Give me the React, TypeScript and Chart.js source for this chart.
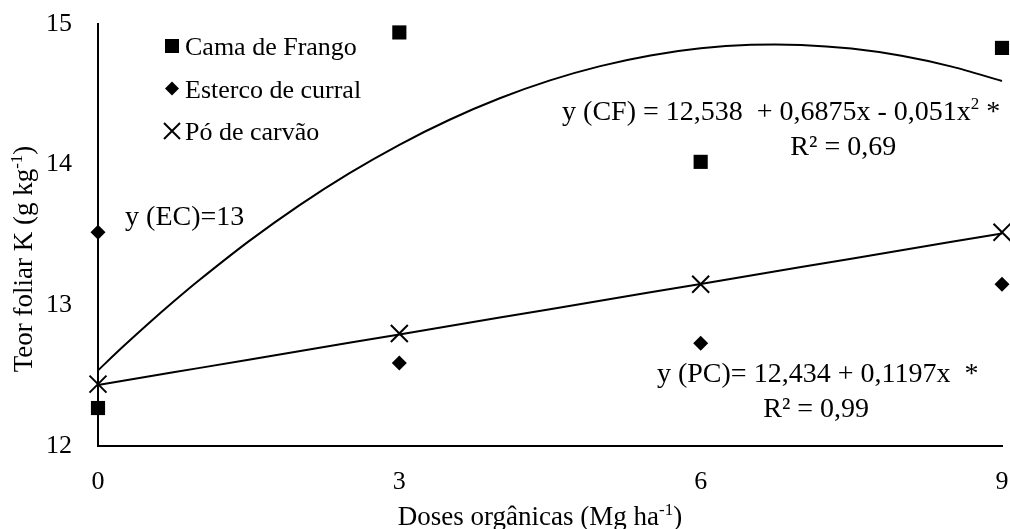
import React, { useEffect, useRef } from "react";
import { Chart, registerables } from "chart.js";

Chart.register(...registerables);

// ---- data ----
const doses = [0, 3, 6, 9];
const camaDeFrango = [12.27, 14.94, 14.02, 14.83];
const estercoDeCurral = [13.52, 12.59, 12.73, 13.15];
const poDeCarvao = [12.44, 12.8, 13.15, 13.52];
const xTicks = [0, 3, 6, 9];
const yTicks = [12, 13, 14, 15];
const seriesLabels = ["Cama de Frango", "Esterco de curral", "Pó de carvão"];
// regression coefficients printed on the chart
const cfCoef = [12.538, 0.6875, -0.051];
const pcCoef = [12.434, 0.1197];
const trendX = [0, 0.25, 0.5, 0.75, 1, 1.5, 2, 2.5, 3, 3.5, 4, 4.5, 5, 5.5, 6, 6.5, 7, 7.5, 8, 8.5, 9];

const FONT = '"Liberation Serif", "Times New Roman", serif';
const TICK_SIZE = 26;

type Part = [string, boolean];

function drawRich(ctx: CanvasRenderingContext2D, parts: Part[], x: number, y: number, align: string, size: number) {
  const sup = Math.round(size * 0.62);
  const widths = parts.map(([t, s]) => {
    ctx.font = `${s ? sup : size}px ${FONT}`;
    return ctx.measureText(t).width;
  });
  const total = widths.reduce((a, b) => a + b, 0);
  let cx = align === "center" ? x - total / 2 : align === "right" ? x - total : x;
  ctx.textAlign = "left";
  ctx.textBaseline = "alphabetic";
  parts.forEach(([t, s], i) => {
    ctx.font = `${s ? sup : size}px ${FONT}`;
    ctx.fillText(t, cx, s ? y - size * 0.38 : y);
    cx += widths[i];
  });
}

// annotation texts, anchored in data coordinates
const annotations: { parts: Part[]; x: number; y: number; align: string }[] = [
  { parts: [["y (EC)=13", false]], x: 0.27, y: 13.57, align: "left" },
  {
    parts: [["y (CF) = 12,538  + 0,6875x - 0,051x", false], ["2", true], [" *", false]],
    x: 4.62, y: 14.318, align: "left",
  },
  { parts: [["R² = 0,69", false]], x: 7.42, y: 14.069, align: "center" },
  { parts: [["y (PC)= 12,434 + 0,1197x  *", false]], x: 5.565, y: 12.455, align: "left" },
  { parts: [["R² = 0,99", false]], x: 7.15, y: 12.206, align: "center" },
];

function drawMarker(ctx: CanvasRenderingContext2D, kind: string, x: number, y: number) {
  ctx.save();
  ctx.fillStyle = "#000";
  ctx.strokeStyle = "#000";
  ctx.lineWidth = 2;
  if (kind === "rect") {
    ctx.fillRect(x - 7, y - 7, 14, 14);
  } else if (kind === "rectRot") {
    ctx.beginPath();
    ctx.moveTo(x - 7, y);
    ctx.lineTo(x, y - 7);
    ctx.lineTo(x + 7, y);
    ctx.lineTo(x, y + 7);
    ctx.closePath();
    ctx.fill();
  } else {
    ctx.beginPath();
    ctx.moveTo(x - 8, y - 8);
    ctx.lineTo(x + 8, y + 8);
    ctx.moveTo(x + 8, y - 8);
    ctx.lineTo(x - 8, y + 8);
    ctx.stroke();
  }
  ctx.restore();
}

const textPlugin = {
  id: "textPlugin",
  afterDraw(chart: any) {
    const ctx: CanvasRenderingContext2D = chart.ctx;
    const xs = chart.scales.x;
    const ys = chart.scales.y;
    const ca = chart.chartArea;
    ctx.save();
    ctx.fillStyle = "#000";
    // annotations
    annotations.forEach((a) => {
      drawRich(ctx, a.parts, xs.getPixelForValue(a.x), ys.getPixelForValue(a.y), a.align, 28);
    });
    // legend
    const kinds = ["rect", "rectRot", "crossRot"];
    const lx = ca.left + 74;
    const ly0 = ca.top + 22;
    seriesLabels.forEach((lab, i) => {
      const cy = ly0 + i * 42.5;
      drawMarker(ctx, kinds[i], lx, cy);
      ctx.fillStyle = "#000";
      drawRich(ctx, [[lab, false]], lx + 13, cy + 9, "left", 26);
    });
    // axis titles
    drawRich(ctx, [["Doses orgânicas (Mg ha", false], ["-1", true], [")", false]], ca.left + (ca.right - ca.left) / 2 - 10, chart.height - 4, "center", 27);
    ctx.save();
    ctx.translate(32, ca.top + (ca.bottom - ca.top) / 2 + 24);
    ctx.rotate(-Math.PI / 2);
    drawRich(ctx, [["Teor foliar K (g kg", false], ["-1", true], [")", false]], 0, 0, "center", 27);
    ctx.restore();
    ctx.restore();
  },
};

export default function App() {
  const ref = useRef<HTMLCanvasElement | null>(null);
  useEffect(() => {
    if (!ref.current) return;
    const toPts = (ys: number[]) => doses.map((x, i) => ({ x, y: ys[i] }));
    const cfTrend = trendX.map((x) => ({ x, y: cfCoef[0] + cfCoef[1] * x + cfCoef[2] * x * x }));
    const pcTrend = trendX.map((x) => ({ x, y: pcCoef[0] + pcCoef[1] * x }));
    const chart = new Chart(ref.current, {
      type: "scatter",
      data: {
        datasets: [
          { label: "trend CF", data: cfTrend, showLine: true, borderColor: "#000", borderWidth: 2, pointRadius: 0, tension: 0.3, clip: false } as any,
          { label: "trend PC", data: pcTrend, showLine: true, borderColor: "#000", borderWidth: 2, pointRadius: 0, clip: false } as any,
          { label: seriesLabels[0], data: toPts(camaDeFrango), pointStyle: "rect", pointRadius: 10, backgroundColor: "#000", borderColor: "#000", borderWidth: 0, clip: false } as any,
          { label: seriesLabels[1], data: toPts(estercoDeCurral), pointStyle: "rectRot", pointRadius: 7.5, backgroundColor: "#000", borderColor: "#000", borderWidth: 0, clip: false } as any,
          { label: seriesLabels[2], data: toPts(poDeCarvao), pointStyle: "crossRot", pointRadius: 12, backgroundColor: "#000", borderColor: "#000", borderWidth: 2, clip: false } as any,
        ],
      },
      options: {
        animation: false,
        responsive: true,
        maintainAspectRatio: false,
        layout: { autoPadding: false, padding: { top: 24, right: 8, left: 0, bottom: 0 } },
        plugins: { legend: { display: false }, tooltip: { enabled: false } },
        scales: {
          x: {
            type: "linear",
            min: 0,
            max: 9,
            afterBuildTicks: (s: any) => { s.ticks = xTicks.map((v) => ({ value: v })); },
            afterFit: (s: any) => { s.height = 83; s.paddingLeft = 0; s.paddingRight = 0; },
            grid: { display: false },
            border: { display: true, color: "#000", width: 2 },
            ticks: { color: "#000", font: { family: FONT, size: TICK_SIZE }, padding: 13, maxRotation: 0 },
          },
          y: {
            type: "linear",
            min: 12,
            max: 15,
            afterBuildTicks: (s: any) => { s.ticks = yTicks.map((v) => ({ value: v })); },
            afterFit: (s: any) => { s.width = 98; s.paddingTop = 0; s.paddingBottom = 0; },
            grid: { display: false },
            border: { display: true, color: "#000", width: 2 },
            ticks: { color: "#000", font: { family: FONT, size: TICK_SIZE }, padding: 18 },
          },
        },
      },
      plugins: [textPlugin],
    });
    return () => chart.destroy();
  }, []);
  return (
    <div style={{ position: "absolute", left: 0, top: 0, width: 1010, height: 529, background: "#fff" }}>
      <canvas ref={ref} />
    </div>
  );
}
